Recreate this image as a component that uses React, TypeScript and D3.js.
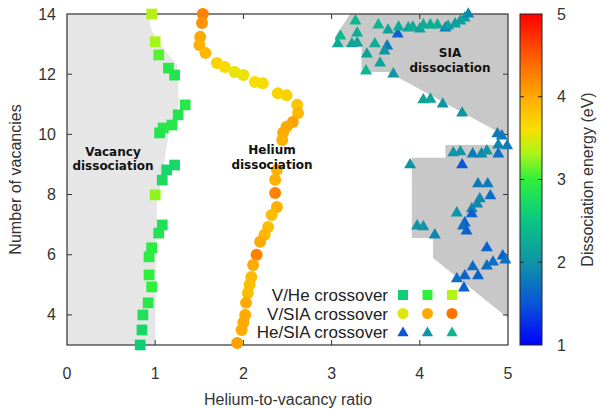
import * as d3 from 'd3';

// V/He crossover (squares)
const vheRatio = [0.96, 1.0, 1.04, 1.15, 1.22, 1.34, 1.26, 1.19, 1.09, 1.05, 1.22, 1.13, 1.08, 1.0, 1.08, 1.04, 0.96, 0.93, 0.93, 0.96, 0.92, 0.86, 0.85, 0.83];
const vheVac = [14.0, 13.08, 12.64, 12.2, 11.97, 10.98, 10.65, 10.31, 10.21, 10.05, 8.98, 8.82, 8.48, 7.99, 6.99, 6.72, 6.23, 5.93, 5.33, 4.93, 4.4, 4.0, 3.5, 3.0];
const vheEnergy = [3.35, 3.3, 3.1, 2.9, 2.85, 2.9, 2.85, 2.9, 2.9, 2.85, 2.7, 2.7, 2.75, 3.25, 2.8, 2.85, 2.95, 2.95, 3.0, 3.0, 2.9, 2.8, 2.7, 2.6];

// V/SIA crossover (circles)
const vsiaRatio = [1.54, 1.53, 1.51, 1.5, 1.57, 1.7, 1.79, 1.9, 2.0, 2.13, 2.22, 2.39, 2.49, 2.61, 2.62, 2.56, 2.49, 2.45, 2.44, 2.38, 2.36, 2.36, 2.38, 2.32, 2.28, 2.24, 2.19, 2.15, 2.11, 2.09, 2.07, 2.05, 2.03, 2.02, 2.0, 1.98, 1.93];
const vsiaVac = [14.0, 13.7, 13.24, 12.97, 12.7, 12.37, 12.24, 12.07, 11.97, 11.74, 11.7, 11.37, 11.3, 10.98, 10.71, 10.41, 10.25, 10.05, 9.81, 8.82, 8.49, 8.05, 7.59, 7.32, 6.92, 6.66, 6.43, 6.0, 5.66, 5.26, 5.0, 4.73, 4.4, 4.0, 3.75, 3.5, 3.07];
const vsiaEnergy = [4.25, 4.15, 4.0, 3.95, 3.9, 3.7, 3.65, 3.55, 3.55, 3.6, 3.65, 3.7, 3.7, 3.8, 3.9, 4.05, 4.0, 4.0, 3.95, 3.95, 3.95, 4.25, 3.95, 3.85, 3.85, 3.9, 4.0, 4.25, 4.0, 3.9, 3.85, 3.85, 4.0, 4.0, 4.0, 4.0, 4.05];

// He/SIA crossover (triangles)
const hesiaRatio = [3.27, 3.1, 3.07, 3.29, 3.29, 3.23, 3.49, 3.63, 3.6, 3.4, 3.55, 3.39, 3.7, 3.53, 3.64, 3.75, 3.76, 3.87, 3.92, 4.0, 4.04, 4.12, 4.2, 4.29, 4.32, 4.4, 4.46, 4.51, 4.55,
  4.04, 4.12, 4.26, 4.48, 4.88, 4.93, 4.89, 4.99,
  4.38, 4.46, 4.6, 4.7, 4.76, 4.89, 4.48, 3.89, 4.66, 4.77, 4.8, 4.68, 4.65, 4.59, 4.42, 4.59, 4.51, 4.49, 4.53, 3.97, 4.04, 4.17, 4.76, 4.94, 4.97, 4.83, 4.76, 4.6, 4.66, 4.51, 4.42, 4.5];
const hesiaVac = [13.8, 13.3, 13.04, 13.4, 13.07, 13.04, 13.04, 12.97, 12.8, 12.7, 12.4, 12.14, 12.04, 13.67, 13.5, 13.37, 13.6, 13.57, 13.6, 13.53, 13.67, 13.67, 13.67, 13.57, 13.63, 13.7, 13.8, 13.9, 14.03,
  11.18, 11.2, 11.04, 10.74, 10.05, 9.98, 9.68, 9.65,
  9.42, 9.45, 9.38, 9.38, 9.48, 9.38, 9.02, 9.02, 8.39, 8.39, 7.99, 7.89, 7.72, 7.56, 7.42, 7.39, 7.09, 6.99, 6.82, 6.99, 6.96, 6.69, 6.26, 5.99, 5.86, 5.79, 5.66, 5.63, 5.33, 5.33, 5.23, 4.93];
const hesiaEnergy = [2.35, 2.35, 2.25, 2.25, 2.15, 2.15, 2.25, 1.8, 2.0, 2.15, 2.15, 2.35, 2.0, 2.35, 2.15, 1.6, 2.25, 2.15, 2.25, 2.1, 2.25, 2.25, 2.25, 1.8, 2.1, 2.1, 2.1, 2.1, 1.9,
  2.15, 2.15, 2.0, 2.0, 1.8, 1.8, 1.9, 1.8,
  2.0, 2.0, 1.8, 1.9, 2.0, 1.7, 1.5, 2.0, 1.8, 1.8, 1.7, 1.9, 1.9, 1.9, 2.0, 1.6, 1.6, 1.7, 1.6, 2.0, 2.0, 1.9, 1.6, 1.6, 1.7, 1.7, 1.7, 1.7, 1.6, 1.6, 1.7, 1.6];

// shaded regions [ratio, vacancies]
const vacancyRegion: [number, number][] = [[0, 3], [1.0, 3], [1.02, 7.7], [1.1, 9], [1.15, 10], [1.27, 11], [1.25, 12.3], [1.05, 13], [0.95, 13.5], [0.93, 14], [0, 14]];
const siaTopRegion: [number, number][] = [[3.21, 14], [5, 14], [5, 9.9], [3.64, 12.07], [3.34, 12.07], [3.34, 12.9], [3.04, 12.9], [3.04, 13.24]];
const siaLowRegion: [number, number][] = [[3.91, 9.22], [4.29, 9.22], [4.29, 9.65], [5, 9.65], [5, 3.9], [4.15, 5.89], [4.15, 6.56], [3.91, 6.56]];

const xTicks = [0, 1, 2, 3, 4, 5];
const yTicks = [4, 6, 8, 10, 12, 14];
const cbTicks = [1, 2, 3, 4, 5];

const legendRows = ['V/He crossover', 'V/SIA crossover', 'He/SIA crossover'];
const legendEnergy = [[2.6, 3.0, 3.35], [3.5, 4.0, 4.35], [1.5, 2.0, 2.35]];

const colorStops = [1, 1.5, 2, 2.5, 3, 3.3, 3.6, 4, 4.5, 5];
const colorRange = ['#0000ff', '#0a55d8', '#0f95a5', '#0ac585', '#2ef03a', '#a6f51a', '#f7e000', '#ffaa00', '#ff5a00', '#ff0000'];

const W = 601;
const H = 409;
const FONT = '"Liberation Sans", Arial, sans-serif';
const BOLD = '"DejaVu Sans", Verdana, sans-serif';

export default function App() {
  const x = d3.scaleLinear().domain([0, 5]).range([67, 508]);
  const y = d3.scaleLinear().domain([3, 14]).range([345, 14]);
  const cb = d3.scaleLinear().domain([1, 5]).range([345, 14]);
  const color = d3.scaleLinear<string>().domain(colorStops).range(colorRange).interpolate(d3.interpolateRgb);

  const area = (pts: [number, number][]) =>
    d3.line<[number, number]>().x((d) => x(d[0])).y((d) => y(d[1]))(pts) + 'Z';

  const sq = d3.symbol().type(d3.symbolSquare).size(115)()!;
  const tri = d3.symbol().type(d3.symbolTriangle).size(62)()!;
  const sqL = d3.symbol().type(d3.symbolSquare).size(100)()!;
  const triL = d3.symbol().type(d3.symbolTriangle).size(55)()!;

  const gradStops = d3.range(0, 41).map((i) => 1 + i * 0.1);

  const tickLen = 5;
  const axisCol = '#333';

  return (
    <svg width={W} height={H} style={{ position: 'absolute', left: 0, top: 0, background: '#fff' }}>
      <defs>
        <linearGradient id="cbar" x1="0" y1="1" x2="0" y2="0">
          {gradStops.map((v) => (
            <stop key={v} offset={(v - 1) / 4} stopColor={color(v)} />
          ))}
        </linearGradient>
      </defs>

      {/* regions */}
      <path d={area(vacancyRegion)} fill="#e6e6e6" />
      <path d={area(siaTopRegion)} fill="#c8c8c8" />
      <path d={area(siaLowRegion)} fill="#c8c8c8" />

      {/* frame and ticks */}
      <rect x={x(0)} y={y(14)} width={x(5) - x(0)} height={y(3) - y(14)} fill="none" stroke={axisCol} strokeWidth={1.2} />
      {xTicks.slice(1, -1).map((t) => (
        <g key={'xt' + t}>
          <line x1={x(t)} x2={x(t)} y1={y(3)} y2={y(3) - tickLen} stroke={axisCol} />
          <line x1={x(t)} x2={x(t)} y1={y(14)} y2={y(14) + tickLen} stroke={axisCol} />
        </g>
      ))}
      {yTicks.slice(0, -1).map((t) => (
        <g key={'yt' + t}>
          <line x1={x(0)} x2={x(0) + tickLen} y1={y(t)} y2={y(t)} stroke={axisCol} />
          <line x1={x(5)} x2={x(5) - tickLen} y1={y(t)} y2={y(t)} stroke={axisCol} />
        </g>
      ))}
      {xTicks.map((t) => (
        <text key={'xl' + t} x={x(t)} y={379} textAnchor="middle" fontFamily={FONT} fontSize={16} fill={axisCol}>
          {t}
        </text>
      ))}
      {yTicks.map((t) => (
        <text key={'yl' + t} x={56} y={y(t) + 5.5} textAnchor="end" fontFamily={FONT} fontSize={16} fill={axisCol}>
          {t}
        </text>
      ))}
      <text x={288} y={405} textAnchor="middle" fontFamily={FONT} fontSize={16} fill={axisCol}>
        Helium-to-vacancy ratio
      </text>
      <text transform={`translate(21,${y(8.5)}) rotate(-90)`} textAnchor="middle" fontFamily={FONT} fontSize={16} fill={axisCol}>
        Number of vacancies
      </text>

      {/* markers */}
      {vheRatio.map((r, i) => (
        <path key={'s' + i} d={sq} transform={`translate(${x(r)},${y(vheVac[i])})`} fill={color(vheEnergy[i])} />
      ))}
      {vsiaRatio.map((r, i) => (
        <circle key={'c' + i} cx={x(r)} cy={y(vsiaVac[i])} r={6} fill={color(vsiaEnergy[i])} />
      ))}
      {hesiaRatio.map((r, i) => (
        <path key={'t' + i} d={tri} transform={`translate(${x(r)},${y(hesiaVac[i]) + 1})`} fill={color(hesiaEnergy[i])} />
      ))}

      {/* region labels */}
      <g fontFamily={BOLD} fontWeight="bold" fontSize={12} fill="#111" textAnchor="middle">
        <text x={113} y={156}>Vacancy</text>
        <text x={113} y={170}>dissociation</text>
        <text x={272} y={154}>Helium</text>
        <text x={272} y={169}>dissociation</text>
        <text x={450} y={57}>SIA</text>
        <text x={450} y={72}>dissociation</text>
      </g>

      {/* legend */}
      {legendRows.map((label, row) => {
        const ly = 295 + row * 18.5;
        return (
          <g key={label}>
            <text x={388} y={ly + 6} textAnchor="end" fontFamily={FONT} fontSize={17} fill="#222">
              {label}
            </text>
            {legendEnergy[row].map((e, k) => {
              const lx = 403 + k * 24.5;
              if (row === 0) return <path key={k} d={sqL} transform={`translate(${lx},${ly})`} fill={color(e)} />;
              if (row === 1) return <circle key={k} cx={lx} cy={ly} r={5.5} fill={color(e)} />;
              return <path key={k} d={triL} transform={`translate(${lx},${ly + 1})`} fill={color(e)} />;
            })}
          </g>
        );
      })}

      {/* colorbar */}
      <rect x={520} y={cb(5)} width={22} height={cb(1) - cb(5)} fill="url(#cbar)" stroke="#222" strokeWidth={1} />
      {cbTicks.slice(1, -1).map((t) => (
        <g key={'cb' + t}>
          <line x1={520} x2={524} y1={cb(t)} y2={cb(t)} stroke="#222" />
          <line x1={538} x2={542} y1={cb(t)} y2={cb(t)} stroke="#222" />
        </g>
      ))}
      {cbTicks.map((t) => (
        <text key={'cbl' + t} x={557} y={cb(t) + 5.5} fontFamily={FONT} fontSize={16} fill={axisCol}>
          {t}
        </text>
      ))}
      <text transform={`translate(593,${(cb(1) + cb(5)) / 2}) rotate(-90)`} textAnchor="middle" fontFamily={FONT} fontSize={16} fill={axisCol}>
        Dissociation energy (eV)
      </text>
    </svg>
  );
}
